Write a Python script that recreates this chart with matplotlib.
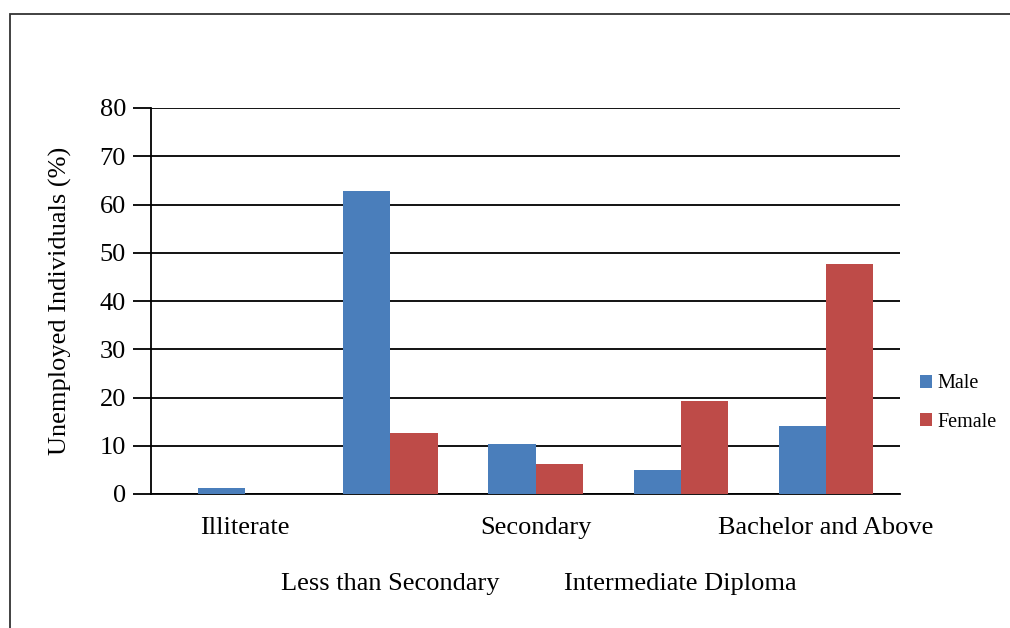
import matplotlib.pyplot as plt
import numpy as np
from matplotlib.patches import Rectangle

categories = ["Illiterate", "Less than Secondary", "Secondary",
              "Intermediate Diploma", "Bachelor and Above"]
male = [1.3, 62.8, 10.4, 5.0, 14.1]
female = [0.0, 12.6, 6.2, 19.3, 47.7]
y_ticks = [0, 10, 20, 30, 40, 50, 60, 70, 80]

plt.rcParams['font.family'] = ['Liberation Serif', 'DejaVu Serif']

W, H = 1010, 628
fig = plt.figure(figsize=(W / 100, H / 100), dpi=100)

# axes box: y-axis at x=151, right end x=900, y=0 at 494, y=80 at 108
ax = fig.add_axes([151 / W, 1 - 494 / H, (900 - 151) / W, (494 - 108) / H])

x = np.arange(len(categories))
bw = 0.325
ax.bar(x - bw / 2, male, bw, color="#4A7EBB", label="Male", zorder=3)
ax.bar(x + bw / 2, female, bw, color="#BE4B48", label="Female", zorder=3)

ax.set_xlim(-0.648, 4.51)
ax.set_ylim(0, 80)
ax.set_yticks(y_ticks)
ax.yaxis.grid(True, color="black", lw=1.3, zorder=1)
ax.set_axisbelow(True)
for s in ["top", "right"]:
    ax.spines[s].set_visible(False)
ax.spines["left"].set_linewidth(1.3)
ax.spines["bottom"].set_linewidth(1.3)
ax.tick_params(axis="y", length=13, width=1.3, labelsize=19, pad=5)
ax.tick_params(axis="x", length=0)

# staggered category labels
ax.set_xticks(x)
ax.set_xticklabels([""] * len(categories))
for i, c in enumerate(categories):
    yoff = -0.088 if i % 2 == 0 else -0.233
    ax.text(i, yoff, c, transform=ax.get_xaxis_transform(), ha="center",
            va="center", fontsize=19)

ax.set_ylabel("Unemployed Individuals (%)", fontsize=19, labelpad=20)

ax.legend(loc="center left", bbox_to_anchor=(902 / W, 1 - 403 / H),
          bbox_transform=fig.transFigure, frameon=False, fontsize=14.5,
          handlelength=0.6, handleheight=0.6, handletextpad=0.25,
          labelspacing=0.95)

# outer frame
fig.patches.append(Rectangle((10 / W, -0.1), 1.2, 1 - 14 / H + 0.1,
                             transform=fig.transFigure, fill=False,
                             edgecolor="#333333", lw=1.3))

fig.savefig("out.png", dpi=100)
